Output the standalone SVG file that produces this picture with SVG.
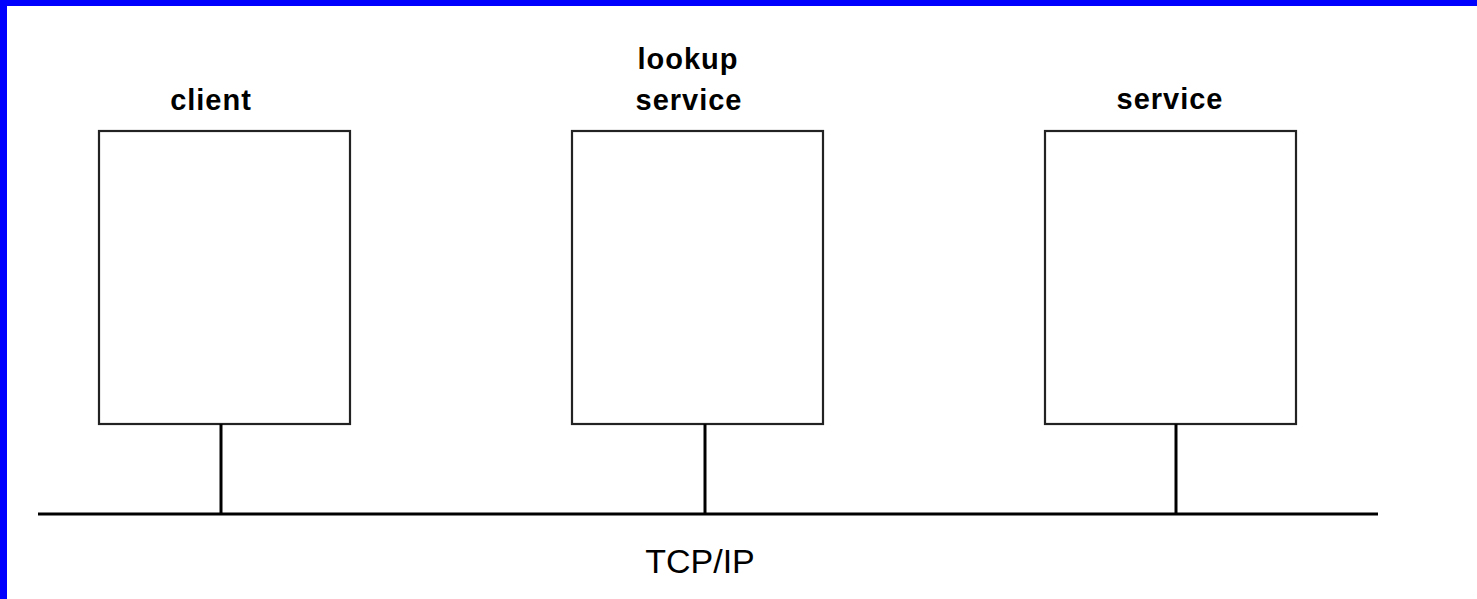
<svg xmlns="http://www.w3.org/2000/svg" width="1477" height="599" viewBox="0 0 1477 599">
<style>
.box{fill:#fff;stroke:#222;stroke-width:2.2}
.lbl{font-family:"Liberation Sans",Arial,sans-serif;font-weight:bold;font-size:29px;letter-spacing:1px;fill:#000;text-anchor:middle}
.net{font-family:"Liberation Sans",Arial,sans-serif;font-size:34px;fill:#000;text-anchor:middle}
.wire{stroke:#000;stroke-width:3;fill:none}
</style>
<rect x="0" y="0" width="1477" height="599" fill="#fff"/>
<rect x="0" y="0" width="1477" height="6" fill="#0000ff"/>
<rect x="0" y="0" width="7" height="599" fill="#0000ff"/>
<g id="client">
<rect class="box" x="99" y="131" width="251" height="293"/>
<text class="lbl" x="211" y="110">client</text>
</g>
<g id="lookup">
<rect class="box" x="572" y="131" width="251" height="293"/>
<text class="lbl" x="688" y="69">lookup</text>
<text class="lbl" x="689" y="110">service</text>
</g>
<g id="service">
<rect class="box" x="1045" y="131" width="251" height="293"/>
<text class="lbl" x="1170" y="109">service</text>
</g>
<g id="network">
<text class="net" x="700" y="573">TCP/IP</text>
</g>
<g id="connectors">
<line class="wire" x1="38" y1="514" x2="1378" y2="514"/>
<line class="wire" x1="221" y1="424" x2="221" y2="514"/>
<line class="wire" x1="705" y1="424" x2="705" y2="514"/>
<line class="wire" x1="1176" y1="424" x2="1176" y2="514"/>
</g>
</svg>
